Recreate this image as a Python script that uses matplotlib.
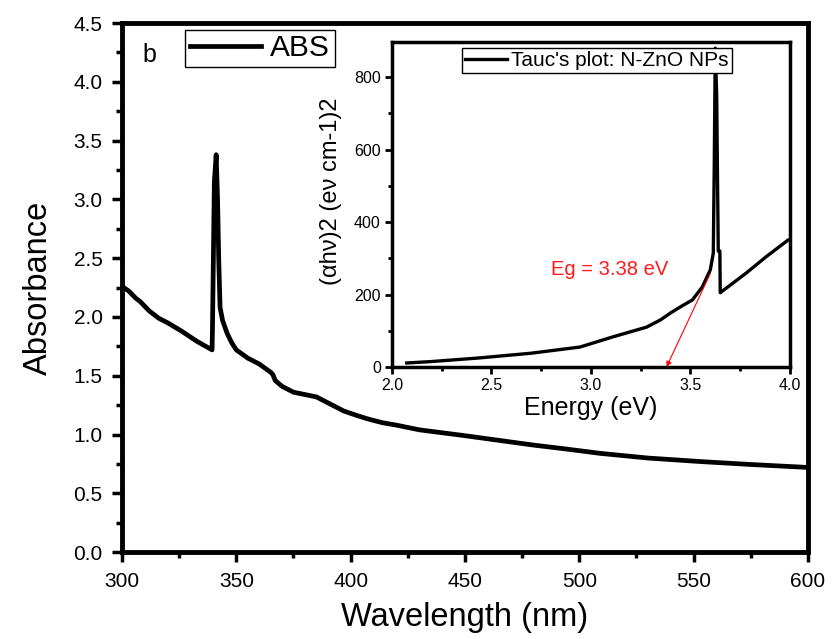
"""
UV-Vis absorbance of N-ZnO NPs with the Tauc plot as an inset.
"""
import numpy as np
import matplotlib
matplotlib.use("Agg")
import matplotlib.pyplot as plt
from matplotlib.ticker import MultipleLocator

plt.rcParams['font.family'] = ['Liberation Sans', 'DejaVu Sans']

# ─────────────────────────────────────────────────────────────────────────────
# Data
# ─────────────────────────────────────────────────────────────────────────────

wavelength = [300, 303, 306, 308, 312, 316, 320, 326, 333, 339.4, 339.6, 340.4,
              341.2, 341.8, 342.3, 342.9, 344, 346, 348, 350, 355, 360, 365,
              366, 367, 370, 375, 380, 385, 390, 397, 403, 408, 414, 420, 430,
              440, 450, 465, 480, 495, 509, 530, 553, 575, 600]
absorbance = [2.26, 2.22, 2.16, 2.13, 2.05, 1.99, 1.95, 1.88, 1.79, 1.72, 1.93, 3.15,
              3.38, 3.00, 2.50, 2.08, 1.97, 1.86, 1.78, 1.72, 1.65, 1.60, 1.53,
              1.51, 1.46, 1.41, 1.36, 1.34, 1.32, 1.27, 1.20, 1.16, 1.13, 1.10, 1.08, 1.04,
              1.015, 0.99, 0.95, 0.91, 0.875, 0.84, 0.80, 0.77, 0.745, 0.72]

energy = [2.075, 2.2, 2.44, 2.7, 2.945, 3.11, 3.28, 3.35, 3.40, 3.45, 3.51, 3.56,
          3.60, 3.615, 3.62, 3.625, 3.632, 3.640, 3.648, 3.650, 3.78, 3.88, 3.99]
tauc = [11, 15, 25, 38, 55, 83, 110, 130, 149, 166, 185, 221,
        268, 314, 560, 880, 750, 320, 320, 205, 259, 304, 350]

eg_value = 3.38
eg_from = (3.60, 258)

# ─────────────────────────────────────────────────────────────────────────────
# Main panel
# ─────────────────────────────────────────────────────────────────────────────

fig = plt.figure(figsize=(8.32, 6.39), dpi=100)
ax = fig.add_axes([0.1466, 0.136, 0.8245, 0.828])

ax.plot(wavelength, absorbance, color='black', lw=3.4, label='ABS',
        solid_joinstyle='round')
ax.set_xlim(300, 600)
ax.set_ylim(0, 4.5)
ax.xaxis.set_major_locator(MultipleLocator(50))
ax.xaxis.set_minor_locator(MultipleLocator(25))
ax.yaxis.set_major_locator(MultipleLocator(0.5))
ax.yaxis.set_minor_locator(MultipleLocator(0.25))
ax.yaxis.set_major_formatter(plt.FormatStrFormatter('%.1f'))

for s in ax.spines.values():
    s.set_linewidth(3.5)
ax.tick_params(which='major', direction='out', length=7, width=2.5,
               labelsize=15, pad=7, top=False, right=False)
ax.tick_params(which='minor', direction='out', length=4, width=2.5,
               top=False, right=False)

ax.set_xlabel('Wavelength (nm)', fontsize=23.5, labelpad=8)
ax.set_ylabel('Absorbance', fontsize=23.5, labelpad=14)

ax.text(0.04, 0.94, 'b', transform=ax.transAxes, fontsize=18,
        ha='center', va='center')
leg = ax.legend(loc='upper left', bbox_to_anchor=(0.092, 0.987),
                borderaxespad=0, fontsize=21.5, handlelength=2.4,
                handletextpad=0.3, borderpad=0.15, fancybox=False,
                framealpha=1, edgecolor='black')
leg.get_frame().set_linewidth(1.0)

# ─────────────────────────────────────────────────────────────────────────────
# Inset: Tauc plot
# ─────────────────────────────────────────────────────────────────────────────

ax_in = fig.add_axes([0.471, 0.4257, 0.4784, 0.5086])
ax_in.plot(energy, tauc, color='black', lw=2.4, label="Tauc's plot: N-ZnO NPs")
ax_in.set_xlim(2.0, 4.0)
ax_in.set_ylim(0, 897)
ax_in.xaxis.set_major_locator(MultipleLocator(0.5))
ax_in.xaxis.set_minor_locator(MultipleLocator(0.25))
ax_in.yaxis.set_major_locator(MultipleLocator(200))
ax_in.yaxis.set_minor_locator(MultipleLocator(100))
ax_in.xaxis.set_major_formatter(plt.FormatStrFormatter('%.1f'))

for s in ax_in.spines.values():
    s.set_linewidth(2.5)
ax_in.tick_params(which='major', direction='out', length=5, width=2,
                  labelsize=11.5, pad=3, top=False, right=False)
ax_in.tick_params(which='minor', direction='out', length=3, width=2,
                  top=False, right=False)

ax_in.set_xlabel('Energy (eV)', fontsize=18, labelpad=2)
ax_in.set_ylabel('(\u03b1h\u03bd)2 (e\u03bd cm-1)2', fontsize=17)
ax_in.yaxis.set_label_coords(-0.125, 0.54)

leg_in = ax_in.legend(loc='upper left', bbox_to_anchor=(0.176, 0.982),
                      borderaxespad=0, fontsize=15, handlelength=2.0,
                      handletextpad=0.2, borderpad=0.15, fancybox=False,
                      framealpha=1, edgecolor='black')
leg_in.get_frame().set_linewidth(1.0)

# band gap extrapolation
ax_in.annotate('', xy=(eg_value, 0), xytext=eg_from,
               arrowprops=dict(arrowstyle='-|>', color='red', lw=0.8,
                               mutation_scale=8, shrinkA=0, shrinkB=0))
ax_in.text(2.80, 268, f'Eg = {eg_value:.2f} eV', color='#ff1a1a',
           fontsize=14.5, ha='left', va='center')

fig.savefig('out.png', dpi=100)
